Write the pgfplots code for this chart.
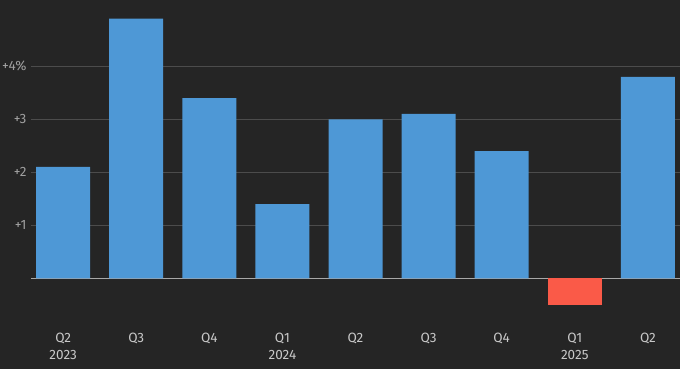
\documentclass[border=0pt]{standalone}
\usepackage{pgfplots}
\pgfplotsset{compat=1.18}
\usepackage{fontspec}
\setmainfont{Fira Sans}
\definecolor{bg}{HTML}{252525}
\definecolor{barblue}{HTML}{4E98D6}
\definecolor{barred}{HTML}{FA5A48}
\definecolor{gridc}{HTML}{4C4C4C}
\definecolor{zeroc}{HTML}{A8A8A8}
\definecolor{ylab}{HTML}{A0A0A0}
\definecolor{xlab}{HTML}{C8C8C8}
\begin{document}
\begin{tikzpicture}
\fill[bg] (-31pt,-43pt) rectangle (649pt,326pt);
\begin{axis}[
  at={(0,0)}, anchor=south west,
  scale only axis, width=649pt, height=326pt,
  xmin=-0.44, xmax=8.44, ymin=-0.9, ymax=5.25,
  axis line style={draw=none},
  major tick length=0pt,
  xtick={0,...,8},
  xticklabels={{Q2\\2023},Q3,Q4,{Q1\\2024},Q2,Q3,Q4,{Q1\\2025},Q2},
  xticklabel style={align=center, font=\fontsize{13.5}{17}\selectfont, text=xlab, anchor=north, yshift=-4pt},
  ytick={1,2,3,4},
  yticklabels={+1,+2,+3,+4\%},
  yticklabel style={font=\fontsize{13.5}{15}\selectfont, text=ylab, anchor=east, xshift=-1pt},
  ymajorgrids,
  grid style={gridc, line width=0.9pt},
  extra y ticks={0},
  extra y tick labels={},
  extra y tick style={grid style={zeroc, line width=1.3pt}},
  ybar, bar width=54pt, bar shift=0pt,
]
\addplot[fill=barblue, draw=none] coordinates {
  (0,2.1) (1,4.9) (2,3.4) (3,1.4) (4,3.0) (5,3.1) (6,2.4) (8,3.8)
};
\addplot[fill=barred, draw=none] coordinates {
  (7,-0.5)
};
\end{axis}
\pgfresetboundingbox
\useasboundingbox (-31pt,-43pt) rectangle (649pt,326pt);
\end{tikzpicture}
\end{document}
